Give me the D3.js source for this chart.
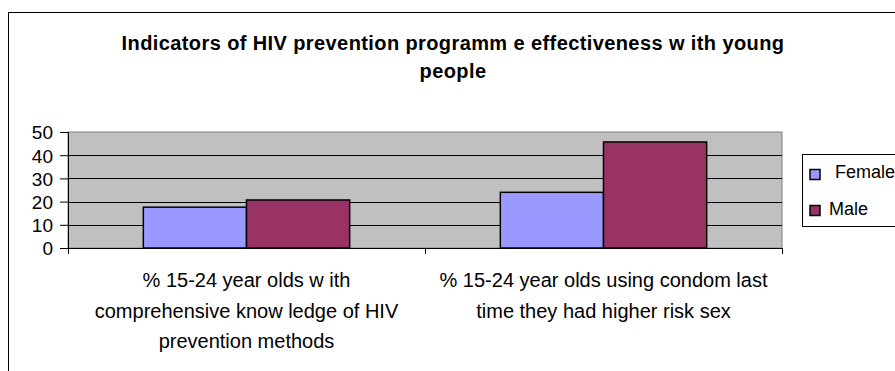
<!DOCTYPE html>
<html>
<head>
<meta charset="utf-8">
<script src="https://cdn.jsdelivr.net/npm/d3@7"></script>
<style>
  body { margin: 0; background: #fff; }
  svg text { font-family: "Liberation Sans", Arial, sans-serif; fill: #000; }
</style>
</head>
<body>
<div id="chart"></div>
<script>
// data
var titleLines = ["Indicators of HIV prevention programm e effectiveness w ith young", "people"];
var categories = [
  ["% 15-24 year olds w ith", "comprehensive know ledge of HIV", "prevention methods"],
  ["% 15-24 year olds using condom last", "time they had higher risk sex"]
];
var seriesNames = ["Female", "Male"];
var female = [17.6, 24.0];
var male = [20.7, 45.7];
var yTicks = [0, 10, 20, 30, 40, 50];
var colours = ["#9999ff", "#993366"];

var W = 895, H = 371;
var plot = { left: 68, top: 132, right: 782, bottom: 248 };

var svg = d3.select("#chart").append("svg")
  .attr("width", W)
  .attr("height", H);

// outer frame of the chart
svg.append("rect")
  .attr("x", 8.5).attr("y", 12.5)
  .attr("width", W).attr("height", H)
  .attr("fill", "#fff")
  .attr("stroke", "#000").attr("stroke-width", 1);

// title
var title = svg.append("text")
  .attr("text-anchor", "middle")
  .style("font-size", "20px")
  .style("font-weight", "bold")
  .style("letter-spacing", "0.4px");
titleLines.forEach(function(l, i) {
  title.append("tspan").attr("x", 453).attr("y", 50 + i * 28).text(l);
});

var x0 = d3.scaleBand()
  .domain(d3.range(categories.length))
  .range([plot.left, plot.right]);

var x1 = d3.scaleBand()
  .domain(seriesNames)
  .range([0, x0.bandwidth() * 0.578])
  .padding(0);

var y = d3.scaleLinear()
  .domain([0, 50])
  .range([plot.bottom, plot.top]);

// plot area
svg.append("rect")
  .attr("x", plot.left).attr("y", plot.top)
  .attr("width", plot.right - plot.left)
  .attr("height", plot.bottom - plot.top)
  .attr("fill", "#c0c0c0")
  .attr("stroke", "#808080");

// gridlines
svg.append("g")
  .selectAll("line")
  .data(yTicks.filter(function(d) { return d > 0 && d < 50; }))
  .enter().append("line")
    .attr("x1", plot.left).attr("x2", plot.right)
    .attr("y1", function(d) { return Math.round(y(d)) + 0.5; })
    .attr("y2", function(d) { return Math.round(y(d)) + 0.5; })
    .attr("stroke", "#000");

// bars
var rows = categories.map(function(c, i) {
  return [{ s: "Female", v: female[i], c: colours[0] }, { s: "Male", v: male[i], c: colours[1] }];
});

var groups = svg.append("g").selectAll("g")
  .data(rows)
  .enter().append("g")
    .attr("transform", function(d, i) {
      return "translate(" + (x0(i) + (x0.bandwidth() - x1.range()[1]) / 2) + ",0)";
    });

groups.selectAll("rect")
  .data(function(d) { return d; })
  .enter().append("rect")
    .attr("x", function(d) { return x1(d.s); })
    .attr("y", function(d) { return y(d.v); })
    .attr("width", x1.bandwidth())
    .attr("height", function(d) { return y(0) - y(d.v); })
    .attr("fill", function(d) { return d.c; })
    .attr("stroke", "#000")
    .attr("stroke-width", 1.5);

// y axis
var yAxis = svg.append("g")
  .attr("transform", "translate(" + plot.left + ",0)")
  .call(d3.axisLeft(y).tickValues(yTicks).tickSize(8).tickPadding(7));
yAxis.select(".domain").attr("stroke", "#000");
yAxis.selectAll("text").style("font-size", "19px").attr("dy", "0.36em");

// x axis (ticks at category boundaries)
var xAxis = svg.append("g")
  .attr("transform", "translate(0," + plot.bottom + ")");
xAxis.append("line")
  .attr("x1", plot.left).attr("x2", plot.right)
  .attr("y1", 0.5).attr("y2", 0.5)
  .attr("stroke", "#000");
xAxis.selectAll(".tick")
  .data([plot.left, x0(1), plot.right])
  .enter().append("line")
    .attr("x1", function(d) { return d + 0.5; })
    .attr("x2", function(d) { return d + 0.5; })
    .attr("y1", 0).attr("y2", 6)
    .attr("stroke", "#000");

var labels = svg.append("g").selectAll("text")
  .data(categories)
  .enter().append("text")
    .attr("text-anchor", "middle")
    .style("font-size", "20px");
labels.each(function(lines, i) {
  var t = d3.select(this);
  lines.forEach(function(l, j) {
    t.append("tspan")
      .attr("x", x0(i) + x0.bandwidth() / 2)
      .attr("y", 287 + j * 30.5)
      .text(l);
  });
});

// legend
var legend = svg.append("g");
legend.append("rect")
  .attr("x", 802.5).attr("y", 154.5)
  .attr("width", 120).attr("height", 72)
  .attr("fill", "#fff")
  .attr("stroke", "#000");

var items = legend.selectAll("g.item")
  .data(seriesNames)
  .enter().append("g")
    .attr("class", "item")
    .attr("transform", function(d, i) { return "translate(0," + (i * 36) + ")"; });
items.append("rect")
  .attr("x", 810).attr("y", 169.5)
  .attr("width", 10).attr("height", 10)
  .attr("fill", function(d, i) { return colours[i]; })
  .attr("stroke", "#000")
  .attr("stroke-width", 1.5);
items.append("text")
  .attr("x", function(d, i) { return i === 0 ? 835 : 829; })
  .attr("y", function(d, i) { return i === 0 ? 178 : 179; })
  .style("font-size", "18px")
  .text(function(d) { return d; });
</script>
</body>
</html>
